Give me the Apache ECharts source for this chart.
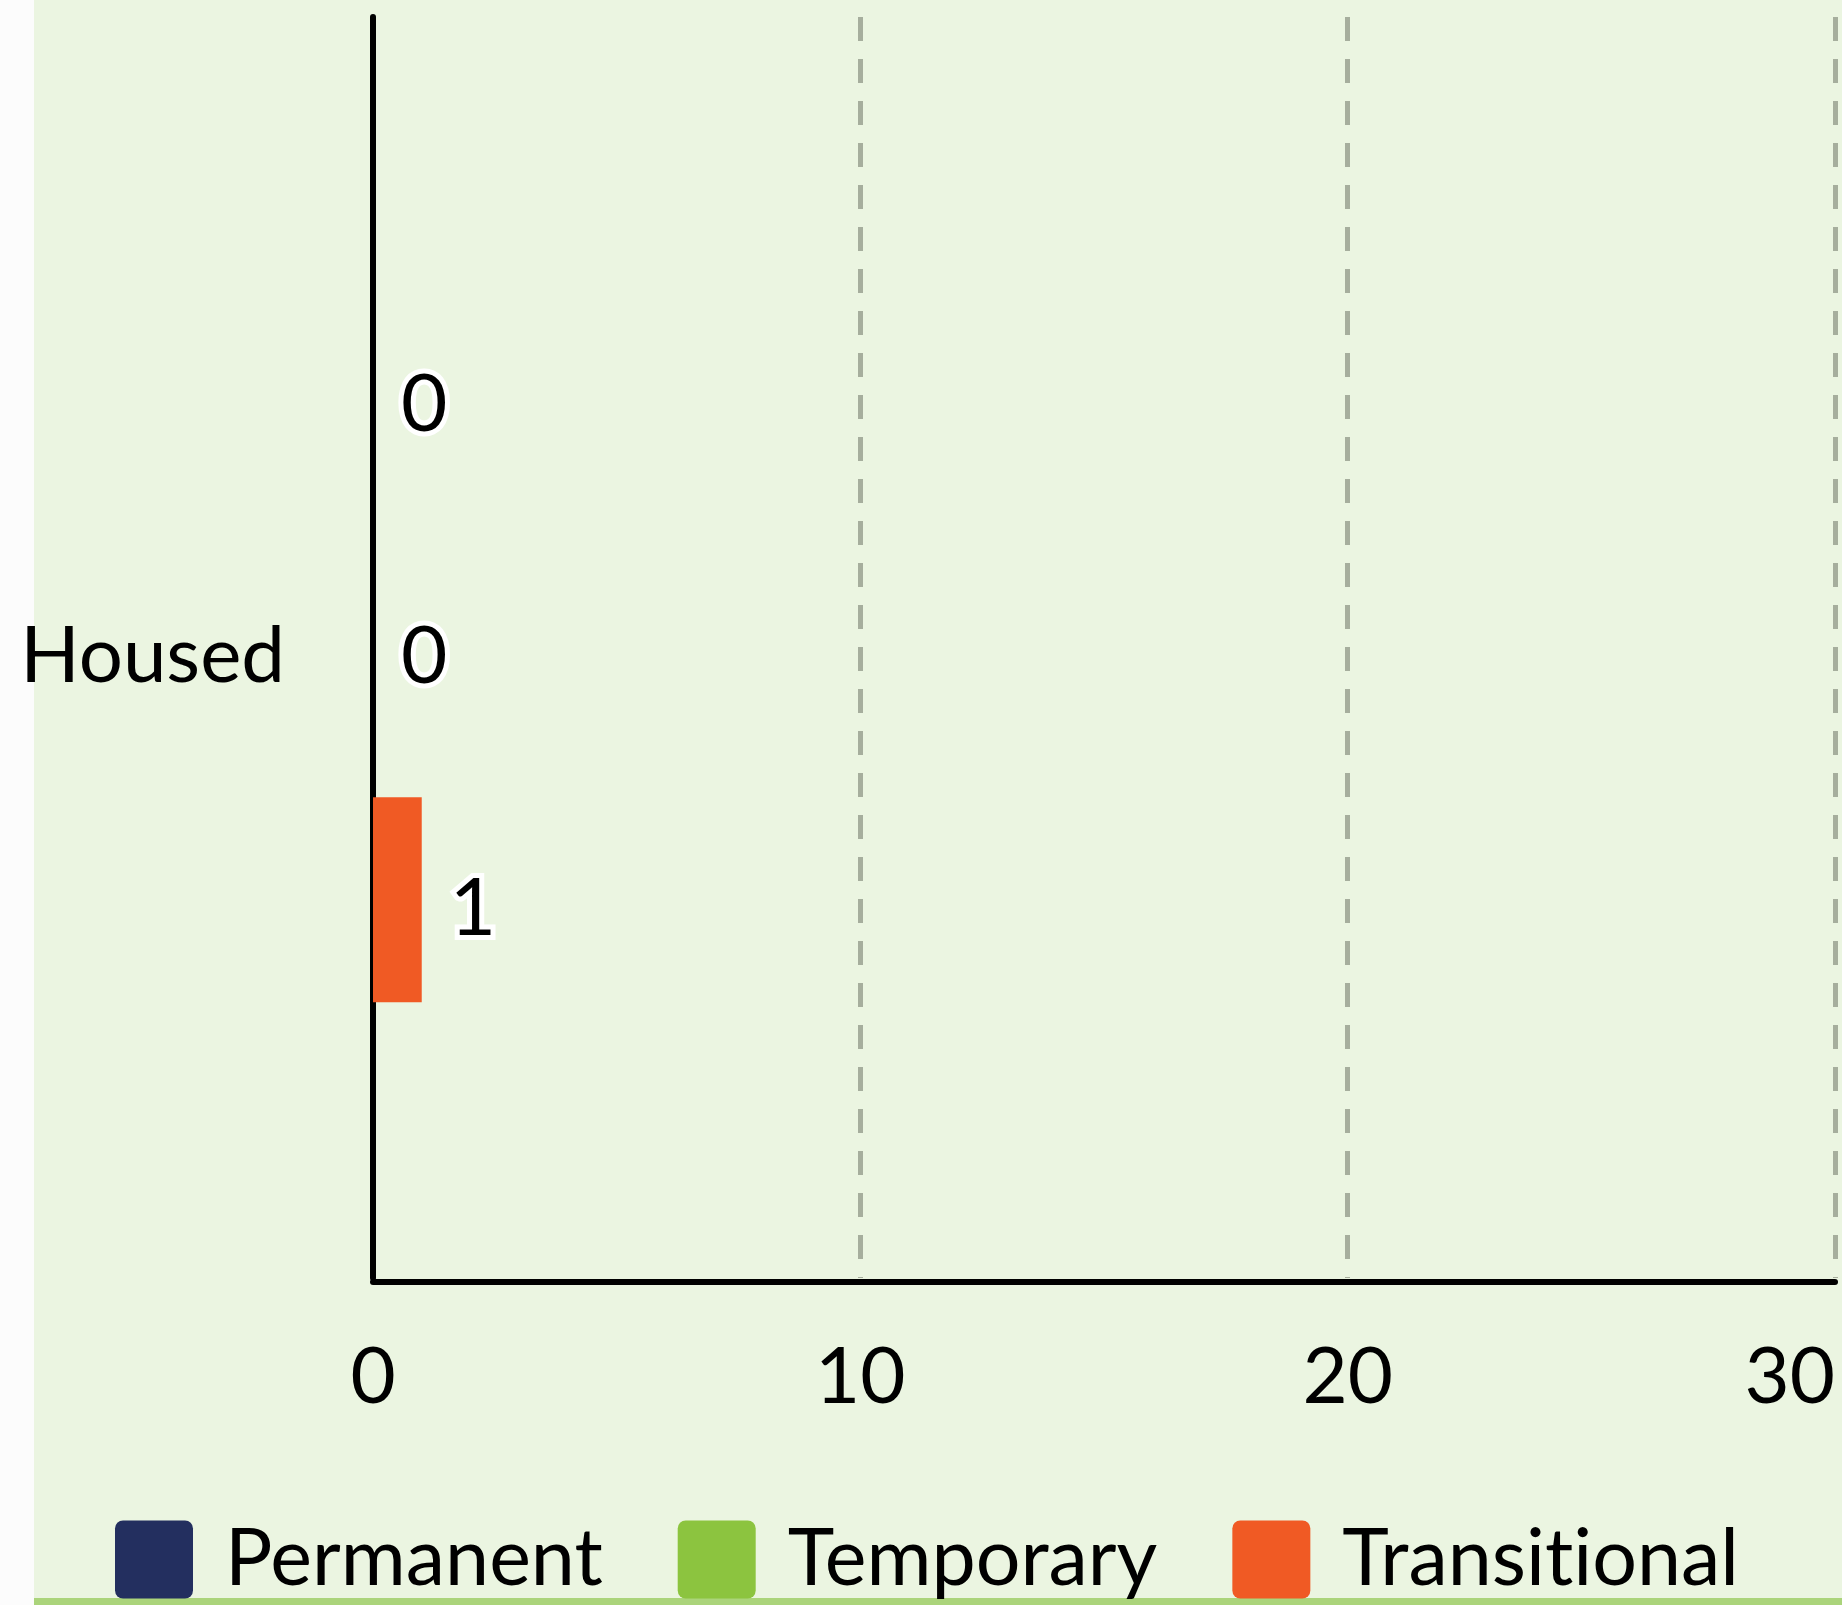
<!DOCTYPE html>
<html>
<head>
<meta charset="utf-8">
<script src="https://cdn.jsdelivr.net/npm/echarts@6/dist/echarts.min.js"></script>
<style>
html,body{margin:0;padding:0;background:#fcfcfc;}
#chart{width:1842px;height:1605px;}
</style>
</head>
<body>
<div id="chart"></div>
<script>
const categories = ['Housed'];
const seriesNames = ['Permanent', 'Temporary', 'Transitional'];
const permanentValues = [0];
const temporaryValues = [0];
const transitionalValues = [1];
const xMin = 0, xMax = 30, xInterval = 10;
const colors = ['#232F5F', '#8CC43F', '#F05A24'];

const FONT = 'Lato';
const chart = echarts.init(document.getElementById('chart'), null, {renderer: 'canvas'});

const labelStyle = {
  show: true,
  position: 'right',
  distance: 28,
  offset: [0, 10],
  fontFamily: FONT,
  fontSize: 80,
  color: '#000',
  textBorderColor: '#ffffff',
  textBorderWidth: 10
};

const valuesList = [permanentValues, temporaryValues, transitionalValues];

chart.setOption({
  backgroundColor: 'transparent',
  animation: false,
  graphic: [
    {type: 'rect', z: -10, silent: true, shape: {x: 34, y: 0, width: 1808, height: 1598}, style: {fill: '#EBF5E1'}},
    {type: 'rect', z: -10, silent: true, shape: {x: 34, y: 1598, width: 1808, height: 7}, style: {fill: '#ABD47B'}}
  ],
  grid: {left: 373, top: 17, width: 1462, height: 1261, containLabel: false},
  legend: {
    data: seriesNames,
    left: 110,
    top: 1515,
    itemWidth: 78,
    itemHeight: 78,
    itemGap: 75,
    icon: 'path://M8,0 H70 A8,8 0 0 1 78,8 V70 A8,8 0 0 1 70,78 H8 A8,8 0 0 1 0,70 V8 A8,8 0 0 1 8,0 Z',
    formatter: function (name) { return name.replace(/ti/g, 't\u200Ci'); },
    textStyle: {fontFamily: FONT, fontSize: 79, color: '#000', padding: [0, 0, 0, 27]}
  },
  xAxis: {
    type: 'value',
    min: xMin,
    max: xMax,
    interval: xInterval,
    offset: 4,
    axisLine: {show: true, lineStyle: {color: '#000', width: 6}},
    axisTick: {show: false},
    splitLine: {show: true, lineStyle: {color: '#A6AE9D', width: 5, type: [24, 18]}},
    axisLabel: {fontFamily: FONT, fontSize: 78, color: '#000', margin: 57, alignMaxLabel: 'right'}
  },
  yAxis: {
    type: 'category',
    data: categories,
    axisLine: {show: true, lineStyle: {color: '#000', width: 6}},
    axisTick: {show: false},
    splitLine: {show: false},
    axisLabel: {fontFamily: FONT, fontSize: 78, color: '#000', margin: 88, verticalAlign: 'top', lineHeight: 18}
  },
  series: seriesNames.map((name, i) => ({
    name: name,
    type: 'bar',
    data: valuesList[i],
    barWidth: 205,
    barGap: '23%',
    itemStyle: {color: colors[i]},
    label: labelStyle
  }))
});
</script>
</body>
</html>
